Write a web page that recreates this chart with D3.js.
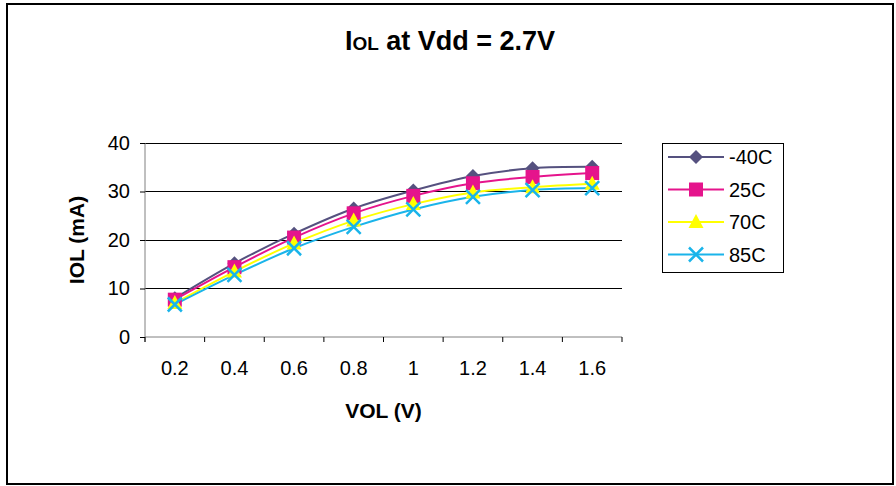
<!DOCTYPE html>
<meta charset="utf-8">
<script src="https://d3js.org/d3.v7.min.js"></script>
<style>
  body { margin: 0; background: #fff; }
  text { font-family: Arial, "Liberation Sans", sans-serif; }
</style>
<div id="chart"></div>
<script>

// data
var voltages = ["0.2", "0.4", "0.6", "0.8", "1", "1.2", "1.4", "1.6"];
var seriesNames = ["-40C", "25C", "70C", "85C"];
var minus40 = [8.0, 15.2, 21.3, 26.5, 30.2, 33.2, 34.8, 35.1];
var plus25  = [7.7, 14.4, 20.5, 25.5, 29.1, 31.7, 33.0, 33.8];
var plus70  = [7.0, 13.5, 19.3, 24.0, 27.4, 29.8, 30.9, 31.6];
var plus85  = [6.7, 12.8, 18.3, 22.7, 26.3, 28.9, 30.3, 30.7];
var yTicks = [0, 10, 20, 30, 40];

var colors = ["#55517f", "#e5148c", "#ffff00", "#1ab4ea"];
var shapes = ["diamond", "square", "triangle", "cross"];

var series = seriesNames.map(function(n, i) {
  var vals = [minus40, plus25, plus70, plus85][i];
  return { name: n, color: colors[i], shape: shapes[i],
           values: voltages.map(function(v, j) { return { v: v, value: vals[j] }; }) };
});

var W = 896, H = 486;
var svg = d3.select("#chart").append("svg")
  .attr("width", W).attr("height", H);

// outer frame
svg.append("rect")
  .attr("x", 7).attr("y", 4).attr("width", 886).attr("height", 480)
  .attr("fill", "#fff").attr("stroke", "#000").attr("stroke-width", 2);

// plot area
var plotLeft = 145, plotRight = 622, plotTop = 143, plotBottom = 337;

var x = d3.scaleBand().domain(voltages).range([plotLeft, plotRight]);
var y = d3.scaleLinear().domain([0, 40]).range([plotBottom, plotTop]);

// gridlines
svg.append("g").selectAll("line")
  .data(yTicks.filter(function(d) { return d > 0; }))
  .enter().append("line")
    .attr("x1", plotLeft).attr("x2", plotRight)
    .attr("y1", function(d) { return y(d); })
    .attr("y2", function(d) { return y(d); })
    .attr("stroke", "#000").attr("stroke-width", 1)
    .attr("shape-rendering", "crispEdges");

// y axis
var yAxis = svg.append("g")
  .attr("transform", "translate(" + plotLeft + ",0)")
  .call(d3.axisLeft(y).tickValues(yTicks).tickSize(5).tickSizeOuter(0).tickPadding(10));
yAxis.select(".domain").attr("stroke", "#808080").attr("d", "M0," + (plotBottom + 5) + "V" + plotTop);
yAxis.selectAll(".tick line").attr("stroke", "#000");
yAxis.selectAll("text").style("font-size", "20px").attr("fill", "#000")
  .style("font-family", "Arial, 'Liberation Sans', sans-serif");

// x axis (category ticks between bands)
var xAxis = svg.append("g")
  .attr("transform", "translate(0," + plotBottom + ")");
xAxis.append("line")
  .attr("x1", plotLeft).attr("x2", plotRight).attr("y1", 0).attr("y2", 0)
  .attr("stroke", "#808080");
xAxis.selectAll(".xtick")
  .data(voltages.concat(["end"]))
  .enter().append("line")
    .attr("x1", function(d, i) { return plotLeft + i * x.bandwidth(); })
    .attr("x2", function(d, i) { return plotLeft + i * x.bandwidth(); })
    .attr("y1", 0).attr("y2", 5)
    .attr("stroke", "#000");
xAxis.selectAll(".xlab")
  .data(voltages)
  .enter().append("text")
    .attr("x", function(d) { return x(d) + x.bandwidth() / 2; })
    .attr("y", 38)
    .attr("text-anchor", "middle")
    .style("font-size", "20px")
    .text(function(d) { return d; });

// axis titles
svg.append("text")
  .attr("x", (plotLeft + plotRight) / 2).attr("y", 418)
  .attr("text-anchor", "middle")
  .style("font-size", "21px").style("font-weight", "bold")
  .text("VOL (V)");

svg.append("text")
  .attr("transform", "translate(84," + ((plotTop + plotBottom) / 2) + ") rotate(-90)")
  .attr("text-anchor", "middle")
  .style("font-size", "21px").style("font-weight", "bold")
  .text("IOL (mA)");

// title with small "OL"
var title = svg.append("text")
  .attr("x", 450).attr("y", 50)
  .attr("text-anchor", "middle")
  .style("font-size", "27px").style("font-weight", "bold");
title.append("tspan").text("I");
title.append("tspan").style("font-size", "19px").text("OL");
title.append("tspan").text(" at Vdd = 2.7V");

// marker drawing
function drawMarker(g, shape, color) {
  if (shape === "diamond") {
    g.append("path").attr("d", "M0,-7L7,0L0,7L-7,0Z").attr("fill", color);
  } else if (shape === "square") {
    g.append("rect").attr("x", -7).attr("y", -7).attr("width", 14).attr("height", 14).attr("fill", color);
  } else if (shape === "triangle") {
    g.append("path").attr("d", "M0,-8L7.5,6L-7.5,6Z").attr("fill", color);
  } else {
    g.append("path").attr("d", "M-7,-7L7,7M-7,7L7,-7")
      .attr("stroke", color).attr("stroke-width", 2.5).attr("fill", "none");
  }
}

var line = d3.line().curve(d3.curveCatmullRom)
  .x(function(d) { return x(d.v) + x.bandwidth() / 2; })
  .y(function(d) { return y(d.value); });

series.forEach(function(s) {
  svg.append("path")
    .attr("d", line(s.values))
    .attr("fill", "none").attr("stroke", s.color).attr("stroke-width", 2);
});

series.forEach(function(s) {
  s.values.forEach(function(d) {
    var g = svg.append("g")
      .attr("transform", "translate(" + (x(d.v) + x.bandwidth() / 2) + "," + y(d.value) + ")");
    drawMarker(g, s.shape, s.color);
  });
});

// legend
var legend = svg.append("g");
legend.append("rect")
  .attr("x", 662).attr("y", 143).attr("width", 121).attr("height", 129)
  .attr("fill", "#fff").attr("stroke", "#000").attr("stroke-width", 1)
  .attr("shape-rendering", "crispEdges");

series.forEach(function(s, i) {
  var cy = 157 + i * 32.5;
  legend.append("line")
    .attr("x1", 668).attr("x2", 724).attr("y1", cy).attr("y2", cy)
    .attr("stroke", s.color).attr("stroke-width", 2);
  drawMarker(legend.append("g").attr("transform", "translate(696," + cy + ")"), s.shape, s.color);
  legend.append("text")
    .attr("x", 729).attr("y", cy + 7)
    .style("font-size", "20px")
    .text(s.name);
});

</script>
